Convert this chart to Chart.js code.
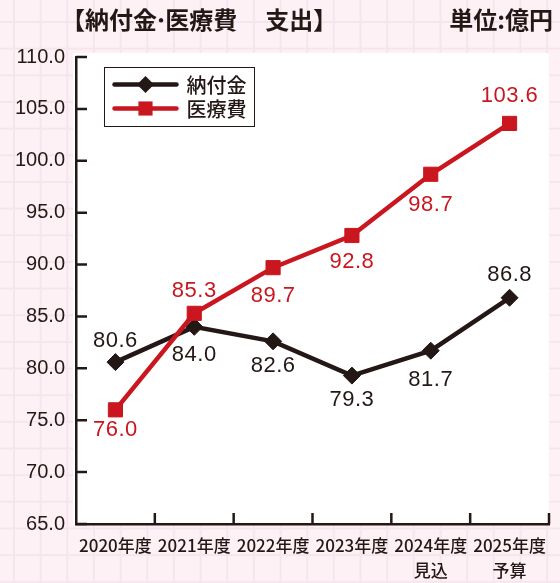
<!doctype html>
<html lang="ja">
<head>
<meta charset="utf-8">
<title>納付金・医療費 支出</title>
<script src="https://cdn.jsdelivr.net/npm/chart.js@4.4.1/dist/chart.umd.min.js"></script>
<style>
  html, body { margin: 0; padding: 0; }
  body {
    width: 560px; height: 583px; overflow: hidden;
    background-color: #fdf1f5;
    background-image:
      linear-gradient(to right, #f7e5ed 2px, transparent 2px),
      linear-gradient(to bottom, #f7e5ed 2px, transparent 2px);
    background-size: 26.67px 26.67px;
    background-position: 13px 21px;
    font-family: "Noto Sans CJK JP", sans-serif;
    color: #231815;
  }
  #wrap { position: relative; width: 560px; height: 583px; }
  .title { position: absolute; left: 61px; top: 5px; font-size: 24px; font-weight: bold; line-height: 28px; white-space: pre; }
  .title .dot { margin: 0 -3px; }
  .title .gap { margin-left: 4px; }
  .unit  { position: absolute; right: 7px; top: 5px; font-size: 24px; font-weight: bold; line-height: 28px; }
  canvas { position: absolute; left: 0; top: 0; }
</style>
</head>
<body>
<div id="wrap">
  <canvas id="chart" width="560" height="583"></canvas>
  <div class="title">【納付金<span class="dot">·</span>医療費<span class="gap">　</span>支出】</div>
  <div class="unit">単位:億円</div>
</div>

<script>
// data
const categories = [['2020年度'], ['2021年度'], ['2022年度'], ['2023年度'], ['2024年度', '見込'], ['2025年度', '予算']];
const nofukin = [80.6, 84.0, 82.6, 79.3, 81.7, 86.8];
const iryohi  = [76.0, 85.3, 89.7, 92.8, 98.7, 103.6];
const yMin = 65, yMax = 110, yStep = 5;

const INK = '#231815';
const RED = '#c9161f';

// label placement relative to each point (px), purely style
const nofukinLabelDy = [-21, 28, 25, 24, 29, -23];
const iryohiLabelDy  = [20, -22, 28, 26, 31, -27];

const whitePlot = {
  id: 'whitePlot',
  beforeDraw(chart) {
    const { ctx, chartArea: a } = chart;
    ctx.save();
    ctx.fillStyle = '#ffffff';
    ctx.fillRect(a.left - 3, a.top - 4, a.right - a.left + 3, a.bottom - a.top + 5);
    ctx.restore();
  },
};

// ticks point inward on both axes
const innerTicks = {
  id: 'innerTicks',
  afterDraw(chart) {
    const { ctx, chartArea: a, scales: { x, y } } = chart;
    ctx.save();
    ctx.strokeStyle = INK;
    ctx.lineWidth = 2.5;
    ctx.beginPath();
    for (const t of y.ticks) {
      const py = y.getPixelForValue(t.value);
      ctx.moveTo(a.left, py);
      ctx.lineTo(a.left + 11, py);
    }
    const n = categories.length;
    for (let i = 1; i <= n; i++) {
      const px = i === n ? a.right : (x.getPixelForValue(i - 1) + x.getPixelForValue(i)) / 2;
      ctx.moveTo(px, a.bottom);
      ctx.lineTo(px, a.bottom - 11);
    }
    ctx.stroke();
    ctx.restore();
  },
};

const valueLabels = {
  id: 'valueLabels',
  afterDatasetsDraw(chart) {
    const { ctx } = chart;
    ctx.save();
    ctx.font = '22px "Liberation Sans", Arial, sans-serif';
    ctx.letterSpacing = '0.5px';
    ctx.textAlign = 'center';
    ctx.textBaseline = 'middle';
    chart.data.datasets.forEach((ds, di) => {
      const meta = chart.getDatasetMeta(di);
      meta.data.forEach((pt, i) => {
        ctx.fillStyle = ds.borderColor;
        ctx.fillText(ds.data[i].toFixed(1), pt.x, pt.y + ds.labelDy[i]);
      });
    });
    ctx.restore();
  },
};

const boxLegend = {
  id: 'boxLegend',
  afterDraw(chart) {
    const { ctx, chartArea: a } = chart;
    const bx = a.left + 28.5, by = a.top + 10.5, bw = 150, bh = 59;
    ctx.save();
    ctx.strokeStyle = INK;
    ctx.lineWidth = 1;
    ctx.strokeRect(bx, by, bw, bh);
    const rows = [chart.data.datasets[0], chart.data.datasets[1]];
    rows.forEach((ds, r) => {
      const cy = by + 17 + r * 24;
      ctx.strokeStyle = ds.borderColor;
      ctx.fillStyle = ds.borderColor;
      ctx.lineWidth = 4.5;
      ctx.lineCap = 'round';
      ctx.beginPath();
      ctx.moveTo(bx + 10, cy);
      ctx.lineTo(bx + 72, cy);
      ctx.stroke();
      ctx.lineWidth = 1;
      Chart.helpers.drawPoint(ctx, { pointStyle: ds.pointStyle, radius: ds.pointRadius, rotation: 0 }, bx + 41, cy);
      ctx.fillStyle = INK;
      ctx.font = '500 20px "Noto Sans CJK JP", sans-serif';
      ctx.textAlign = 'left';
      ctx.textBaseline = 'middle';
      ctx.fillText(ds.label, bx + 82, cy + 1);
    });
    ctx.restore();
  },
};

new Chart(document.getElementById('chart'), {
  type: 'line',
  data: {
    labels: categories,
    datasets: [
      {
        label: '納付金',
        data: nofukin,
        labelDy: nofukinLabelDy,
        borderColor: INK,
        backgroundColor: INK,
        pointBorderColor: INK,
        borderWidth: 4.5,
        pointStyle: 'rectRot',
        pointRadius: 8.5,
        pointBorderWidth: 1,
        tension: 0,
        order: 1,
      },
      {
        label: '医療費',
        data: iryohi,
        labelDy: iryohiLabelDy,
        borderColor: RED,
        backgroundColor: RED,
        pointBorderColor: RED,
        borderWidth: 4.5,
        pointStyle: 'rect',
        pointRadius: 10,
        pointBorderWidth: 1,
        tension: 0,
        order: 0,
      },
    ],
  },
  options: {
    responsive: false,
    animation: false,
    layout: { padding: { left: 0, right: 9, top: 57, bottom: 0 } },
    plugins: { legend: { display: false }, tooltip: { enabled: false } },
    scales: {
      x: {
        type: 'category',
        offset: true,
        afterFit: (s) => { s.height = 59; },
        grid: { display: true, drawOnChartArea: false, drawTicks: false },
        border: { display: true, color: INK, width: 2.5 },
        ticks: {
          color: INK,
          padding: 9,
          maxRotation: 0,
          autoSkip: false,
          font: { family: '"Noto Sans CJK JP", sans-serif', size: 17, weight: '500', lineHeight: 25 / 17 },
        },
      },
      y: {
        min: yMin,
        max: yMax,
        afterFit: (s) => { s.width = 76; },
        grid: { display: true, drawOnChartArea: false, drawTicks: false },
        border: { display: true, color: INK, width: 2.5 },
        ticks: {
          stepSize: yStep,
          color: INK,
          padding: 11,
          font: { family: '"Liberation Sans", Arial, sans-serif', size: 20 },
          callback: (v) => v.toFixed(1),
        },
      },
    },
  },
  plugins: [whitePlot, innerTicks, valueLabels, boxLegend],
});
</script>
</body>
</html>
